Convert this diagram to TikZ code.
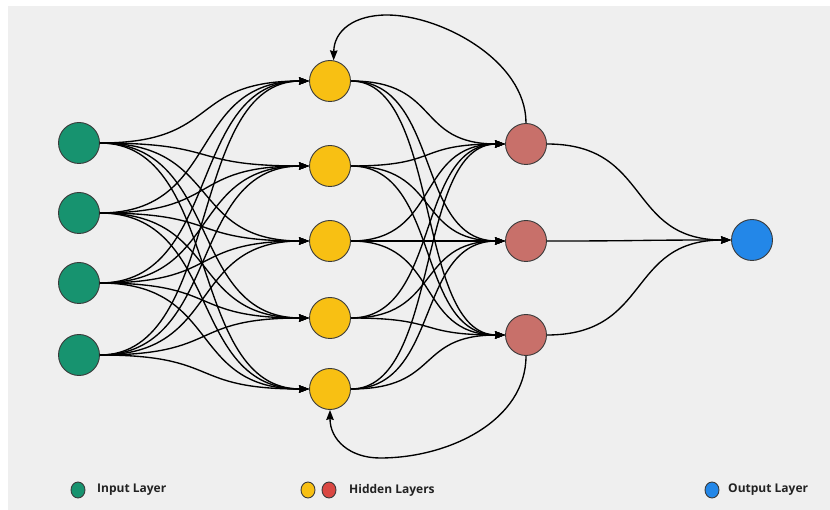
\documentclass[tikz,border=0pt]{standalone}
\usepackage{fontspec}
\setmainfont{Open Sans}
\usetikzlibrary{arrows.meta,shapes.geometric}
\definecolor{bgc}{HTML}{EFEFEF}
\definecolor{ingreen}{HTML}{17936F}
\definecolor{hidyellow}{HTML}{F8C013}
\definecolor{hidred}{HTML}{C8706A}
\definecolor{legred}{HTML}{DA4843}
\definecolor{outblue}{HTML}{2387E8}
\definecolor{rim}{HTML}{3A3A3A}
\definecolor{txt}{HTML}{222222}
\tikzset{
  neuron/.style={circle, draw=rim, line width=0.9pt, minimum size=41pt, inner sep=0pt},
  legdot/.style={ellipse, draw=rim, line width=0.9pt, minimum width=14pt, minimum height=16pt, inner sep=0pt},
  legtext/.style={anchor=west, text=txt, font=\fontsize{12}{14}\selectfont\bfseries, inner sep=0pt},
  edge/.style={line width=1.35pt, -{Stealth[length=10pt,width=7.5pt,inset=1pt]}},
}
\begin{document}
\begin{tikzpicture}[x=1pt,y=-1pt]
  \useasboundingbox (0,0) rectangle (830,510);
  \fill[white] (0,0) rectangle (830,510);
  \fill[bgc] (8,6) rectangle (830,510);

  % input layer
  \foreach \n/\y in {1/143,2/213,3/283,4/355}
    \node[neuron, fill=ingreen] (i\n) at (79,\y) {};
  % first hidden layer
  \foreach \n/\y in {1/81,2/166,3/241,4/318,5/389}
    \node[neuron, fill=hidyellow] (h\n) at (330,\y) {};
  % second hidden layer
  \foreach \n/\y in {1/144,2/241,3/335}
    \node[neuron, fill=hidred] (r\n) at (526,\y) {};
  % output
  \node[neuron, fill=outblue] (o) at (752,240) {};

  % connections
  \foreach \a in {1,...,4}
    \foreach \b in {1,...,5}
      \draw[edge] (i\a.east) .. controls +(122,0) and +(-122,0) .. (h\b.west);
  \foreach \a in {1,...,5}
    \foreach \b in {1,...,3}
      \draw[edge] (h\a.east) .. controls +(90,0) and +(-90,0) .. (r\b.west);
  \foreach \a in {1,...,3}
    \draw[edge] (r\a.east) .. controls +(105,0) and +(-105,0) .. (o.west);

  % recurrent loops
  \coordinate (ltop) at (387,15);
  \coordinate (lbot) at (380,458);
  \draw[edge] (r1.north) .. controls (526,60) and (440,15) .. (ltop)
              .. controls (355,15) and (334,30) .. (h1.80);
  \draw[edge] (r3.south) .. controls (526,420) and (450,458) .. (lbot)
              .. controls (350,458) and (330,440) .. (h5.south);

  % legend
  \node[legdot, fill=ingreen] (k1) at (78,490) {};
  \node[legtext] (t1) at (97,490) {Input Layer};
  \node[legdot, fill=hidyellow] (k2) at (308,490) {};
  \node[legdot, fill=legred] (k3) at (329,490) {};
  \node[legtext] (t2) at (349,490) {Hidden Layers};
  \node[legdot, fill=outblue] (k4) at (712,490) {};
  \node[legtext] (t3) at (728,490) {Output Layer};
\end{tikzpicture}
\end{document}
